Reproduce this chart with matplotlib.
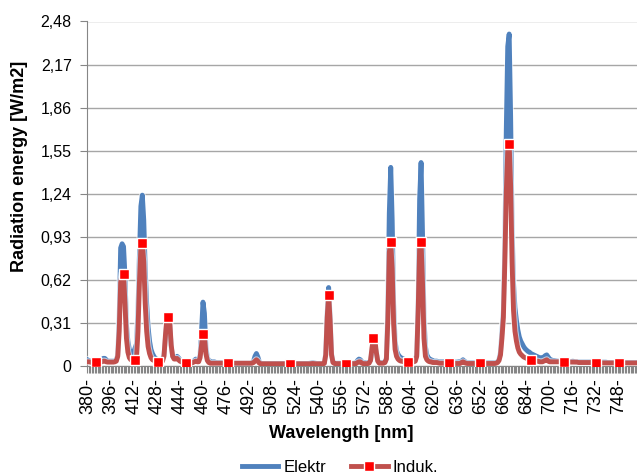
import matplotlib.pyplot as plt
import matplotlib.patheffects as pe
from matplotlib.lines import Line2D

plt.rcParams['font.family'] = ['Liberation Sans', 'DejaVu Sans']

# wavelength categories, 1 nm step
wavelength = list(range(380, 761))

# Elektr (blue), values, rows of 10 nm
elektr = [
    0.045, 0.040, 0.035, 0.030, 0.030, 0.030, 0.030, 0.030, 0.030, 0.035,  # 380
    0.045, 0.055, 0.055, 0.045, 0.035, 0.035, 0.035, 0.035, 0.035, 0.040,  # 390
    0.045, 0.080, 0.350, 0.850, 0.880, 0.860, 0.650, 0.300, 0.180, 0.120,  # 400
    0.090, 0.080, 0.100, 0.130, 0.160, 0.400, 0.800, 1.150, 1.230, 1.050,  # 410
    0.700, 0.450, 0.280, 0.180, 0.120, 0.090, 0.070, 0.055, 0.050, 0.045,  # 420
    0.045, 0.045, 0.050, 0.080, 0.200, 0.330, 0.340, 0.300, 0.140, 0.070,  # 430
    0.060, 0.065, 0.070, 0.060, 0.045, 0.040, 0.035, 0.030, 0.030, 0.030,  # 440
    0.030, 0.025, 0.025, 0.030, 0.040, 0.050, 0.045, 0.040, 0.080, 0.250,  # 450
    0.460, 0.380, 0.140, 0.060, 0.040, 0.035, 0.030, 0.030, 0.030, 0.025,  # 460
    0.025, 0.025, 0.025, 0.025, 0.022, 0.022, 0.022, 0.020, 0.020, 0.020,  # 470
    0.020, 0.020, 0.020, 0.020, 0.020, 0.020, 0.020, 0.020, 0.020, 0.020,  # 480
    0.020, 0.020, 0.020, 0.020, 0.022, 0.035, 0.070, 0.090, 0.065, 0.030,  # 490
    0.020, 0.018, 0.018, 0.018, 0.018, 0.018, 0.018, 0.018, 0.018, 0.018,  # 500
    0.018, 0.018, 0.018, 0.018, 0.018, 0.018, 0.018, 0.018, 0.018, 0.018,  # 510
    0.018, 0.018, 0.018, 0.018, 0.018, 0.018, 0.018, 0.018, 0.018, 0.018,  # 520
    0.018, 0.018, 0.018, 0.018, 0.020, 0.022, 0.025, 0.022, 0.020, 0.018,  # 530
    0.018, 0.018, 0.018, 0.018, 0.020, 0.090, 0.380, 0.565, 0.360, 0.090,  # 540
    0.030, 0.020, 0.020, 0.020, 0.020, 0.020, 0.020, 0.020, 0.020, 0.020,  # 550
    0.020, 0.020, 0.020, 0.020, 0.020, 0.022, 0.025, 0.040, 0.050, 0.045,  # 560
    0.030, 0.025, 0.025, 0.025, 0.025, 0.025, 0.040, 0.100, 0.145, 0.150,  # 570
    0.100, 0.040, 0.025, 0.025, 0.025, 0.025, 0.030, 0.060, 0.400, 1.100,  # 580
    1.430, 1.050, 0.450, 0.180, 0.110, 0.085, 0.070, 0.060, 0.055, 0.050,  # 590
    0.045, 0.040, 0.040, 0.040, 0.040, 0.040, 0.040, 0.045, 0.080, 0.450,  # 600
    1.200, 1.465, 0.950, 0.350, 0.140, 0.080, 0.060, 0.050, 0.045, 0.040,  # 610
    0.035, 0.035, 0.035, 0.030, 0.030, 0.030, 0.030, 0.030, 0.035, 0.030,  # 620
    0.030, 0.028, 0.028, 0.028, 0.028, 0.028, 0.028, 0.030, 0.030, 0.035,  # 630
    0.045, 0.035, 0.028, 0.025, 0.025, 0.025, 0.025, 0.025, 0.025, 0.025,  # 640
    0.025, 0.025, 0.025, 0.025, 0.025, 0.025, 0.025, 0.025, 0.025, 0.025,  # 650
    0.025, 0.025, 0.025, 0.025, 0.030, 0.050, 0.100, 0.250, 0.400, 0.850,  # 660
    1.700, 2.300, 2.390, 1.800, 1.000, 0.600, 0.420, 0.330, 0.260, 0.210,  # 670
    0.180, 0.160, 0.140, 0.125, 0.115, 0.105, 0.100, 0.090, 0.085, 0.080,  # 680
    0.075, 0.070, 0.065, 0.060, 0.060, 0.060, 0.065, 0.075, 0.080, 0.065,  # 690
    0.050, 0.045, 0.040, 0.040, 0.038, 0.036, 0.035, 0.035, 0.035, 0.035,  # 700
    0.035, 0.034, 0.033, 0.032, 0.032, 0.032, 0.035, 0.032, 0.030, 0.030,  # 710
    0.030, 0.030, 0.030, 0.030, 0.030, 0.030, 0.030, 0.030, 0.030, 0.030,  # 720
    0.028, 0.028, 0.028, 0.028, 0.028, 0.028, 0.028, 0.028, 0.028, 0.028,  # 730
    0.025, 0.025, 0.025, 0.025, 0.025, 0.025, 0.025, 0.025, 0.025, 0.025,  # 740
    0.025, 0.025, 0.025, 0.025, 0.025, 0.025, 0.025, 0.025, 0.025, 0.025,  # 750
    0.025,                                                                 # 760
]

# Induk. (red)
induk = [
    0.030, 0.030, 0.028, 0.025, 0.025, 0.028, 0.030, 0.030, 0.028, 0.028,  # 380
    0.030, 0.035, 0.035, 0.030, 0.028, 0.028, 0.028, 0.028, 0.028, 0.030,  # 390
    0.035, 0.070, 0.250, 0.600, 0.670, 0.660, 0.450, 0.200, 0.100, 0.060,  # 400
    0.045, 0.040, 0.040, 0.040, 0.060, 0.250, 0.600, 0.850, 0.885, 0.750,  # 410
    0.450, 0.250, 0.140, 0.090, 0.060, 0.045, 0.040, 0.035, 0.030, 0.030,  # 420
    0.030, 0.030, 0.035, 0.070, 0.220, 0.340, 0.355, 0.320, 0.150, 0.070,  # 430
    0.050, 0.050, 0.055, 0.045, 0.035, 0.030, 0.025, 0.020, 0.020, 0.020,  # 440
    0.020, 0.020, 0.020, 0.025, 0.030, 0.035, 0.030, 0.030, 0.060, 0.150,  # 450
    0.230, 0.210, 0.090, 0.040, 0.025, 0.020, 0.020, 0.020, 0.020, 0.020,  # 460
    0.020, 0.020, 0.020, 0.020, 0.020, 0.020, 0.020, 0.020, 0.020, 0.020,  # 470
    0.020, 0.020, 0.020, 0.020, 0.020, 0.020, 0.020, 0.020, 0.020, 0.020,  # 480
    0.020, 0.020, 0.020, 0.020, 0.020, 0.025, 0.035, 0.045, 0.035, 0.020,  # 490
    0.016, 0.016, 0.016, 0.016, 0.016, 0.016, 0.016, 0.016, 0.016, 0.016,  # 500
    0.016, 0.016, 0.016, 0.016, 0.016, 0.016, 0.016, 0.016, 0.016, 0.016,  # 510
    0.016, 0.016, 0.016, 0.016, 0.016, 0.016, 0.016, 0.016, 0.016, 0.016,  # 520
    0.016, 0.016, 0.016, 0.016, 0.016, 0.017, 0.018, 0.017, 0.016, 0.016,  # 530
    0.016, 0.016, 0.016, 0.016, 0.018, 0.080, 0.350, 0.510, 0.330, 0.080,  # 540
    0.025, 0.018, 0.017, 0.017, 0.017, 0.017, 0.017, 0.017, 0.017, 0.017,  # 550
    0.017, 0.017, 0.017, 0.017, 0.017, 0.017, 0.017, 0.025, 0.030, 0.030,  # 560
    0.020, 0.017, 0.017, 0.017, 0.017, 0.020, 0.040, 0.130, 0.200, 0.190,  # 570
    0.100, 0.035, 0.020, 0.020, 0.020, 0.020, 0.025, 0.050, 0.330, 0.820,  # 580
    0.890, 0.700, 0.300, 0.120, 0.070, 0.050, 0.040, 0.035, 0.035, 0.030,  # 590
    0.030, 0.030, 0.030, 0.030, 0.030, 0.030, 0.030, 0.035, 0.070, 0.400,  # 600
    0.850, 0.890, 0.600, 0.200, 0.070, 0.045, 0.035, 0.030, 0.030, 0.025,  # 610
    0.025, 0.025, 0.025, 0.022, 0.020, 0.020, 0.020, 0.020, 0.020, 0.020,  # 620
    0.018, 0.018, 0.018, 0.018, 0.018, 0.018, 0.018, 0.018, 0.018, 0.025,  # 630
    0.030, 0.025, 0.020, 0.018, 0.018, 0.018, 0.018, 0.018, 0.018, 0.018,  # 640
    0.018, 0.018, 0.018, 0.018, 0.018, 0.018, 0.018, 0.018, 0.018, 0.018,  # 650
    0.018, 0.018, 0.018, 0.020, 0.025, 0.040, 0.080, 0.200, 0.350, 0.750,  # 660
    1.250, 1.550, 1.600, 1.300, 0.750, 0.400, 0.250, 0.180, 0.130, 0.100,  # 670
    0.085, 0.075, 0.065, 0.060, 0.055, 0.050, 0.045, 0.040, 0.040, 0.040,  # 680
    0.035, 0.035, 0.035, 0.030, 0.030, 0.030, 0.035, 0.040, 0.045, 0.035,  # 690
    0.030, 0.030, 0.030, 0.030, 0.030, 0.030, 0.030, 0.030, 0.030, 0.030,  # 700
    0.030, 0.028, 0.028, 0.028, 0.028, 0.028, 0.028, 0.028, 0.028, 0.028,  # 710
    0.025, 0.025, 0.025, 0.025, 0.025, 0.025, 0.025, 0.025, 0.025, 0.025,  # 720
    0.022, 0.022, 0.022, 0.022, 0.022, 0.022, 0.022, 0.022, 0.022, 0.022,  # 730
    0.022, 0.022, 0.022, 0.022, 0.022, 0.022, 0.022, 0.022, 0.022, 0.022,  # 740
    0.022, 0.022, 0.022, 0.022, 0.022, 0.022, 0.022, 0.022, 0.022, 0.022,  # 750
    0.022,                                                                 # 760
]

# wavelengths where the Induk. markers are shown
marker_nm = [386, 405, 413, 418, 429, 436, 448, 460, 477, 520, 547, 559,
             578, 590, 602, 611, 630, 652, 672, 687, 710, 732, 748]

label_nm = [380, 396, 412, 428, 444, 460, 476, 492, 508, 524, 540, 556,
            572, 588, 604, 620, 636, 652, 668, 684, 700, 716, 732, 748]
x_labels = [f'{v}-' for v in label_nm]

y_ticks = [0, 0.31, 0.62, 0.93, 1.24, 1.55, 1.86, 2.17, 2.48]
y_labels = ['0', '0,31', '0,62', '0,93', '1,24', '1,55', '1,86', '2,17', '2,48']

BLUE = '#4F81BD'
RED_LINE = '#C0504D'
RED_MK = '#FF0000'

fig = plt.figure(figsize=(6.37, 4.75), dpi=100)
ax = fig.add_axes([87 / 637, 109 / 475, 550 / 637, 344.5 / 475])

glow = [pe.Stroke(linewidth=5, foreground='white', alpha=0.6), pe.Normal()]
ax.plot(wavelength, elektr, color=BLUE, lw=3.5, solid_joinstyle='round',
        path_effects=glow, zorder=3)
ax.plot(wavelength, induk, color=RED_LINE, lw=3.5, solid_joinstyle='round',
        path_effects=glow, zorder=4)
mk_y = [induk[wavelength.index(v)] for v in marker_nm]
ax.plot(marker_nm, mk_y, ls='none', marker='s', markersize=7,
        markerfacecolor=RED_MK, markeredgecolor='white', markeredgewidth=1,
        zorder=5)

ax.set_xlim(379.7, 760.5)
ax.set_ylim(0, 2.48)
ax.set_yticks(y_ticks)
ax.set_yticklabels(y_labels, fontsize=11.5)
ax.set_xticks(label_nm)
ax.set_xticks(wavelength, minor=True)
ax.set_xticklabels(x_labels, rotation=90, fontsize=13)
ax.tick_params(axis='x', which='both', length=5, color='#868686', width=0.8)
ax.tick_params(axis='y', length=5, color='#868686', width=0.8, pad=6)
ax.grid(axis='y', color='#A6A6A6', lw=1)
ax.set_axisbelow(True)

for s in ['top', 'right']:
    ax.spines[s].set_visible(False)
for s in ['left', 'bottom']:
    ax.spines[s].set_color('#868686')

fig.text(20 / 637, 1 - 166 / 475, 'Radiation energy [W/m2]', rotation=90,
         fontsize=13, fontweight='bold', ha='center', va='center')
fig.text(341 / 637, 1 - 433 / 475, 'Wavelength [nm]', fontsize=13,
         fontweight='bold', ha='center', va='center')

handles = [
    Line2D([], [], color=BLUE, lw=3.5),
    Line2D([], [], color=RED_LINE, lw=3.5, marker='s', markersize=7,
           markerfacecolor=RED_MK, markeredgecolor='white', markeredgewidth=1),
]
fig.legend(handles, ['Elektr', 'Induk.'], loc='center',
           bbox_to_anchor=(340 / 637, 1 - 467 / 475), ncol=2,
           frameon=False, fontsize=12, handlelength=2.2, handletextpad=0.3,
           columnspacing=1.5)

fig.savefig('out.png', dpi=100)
